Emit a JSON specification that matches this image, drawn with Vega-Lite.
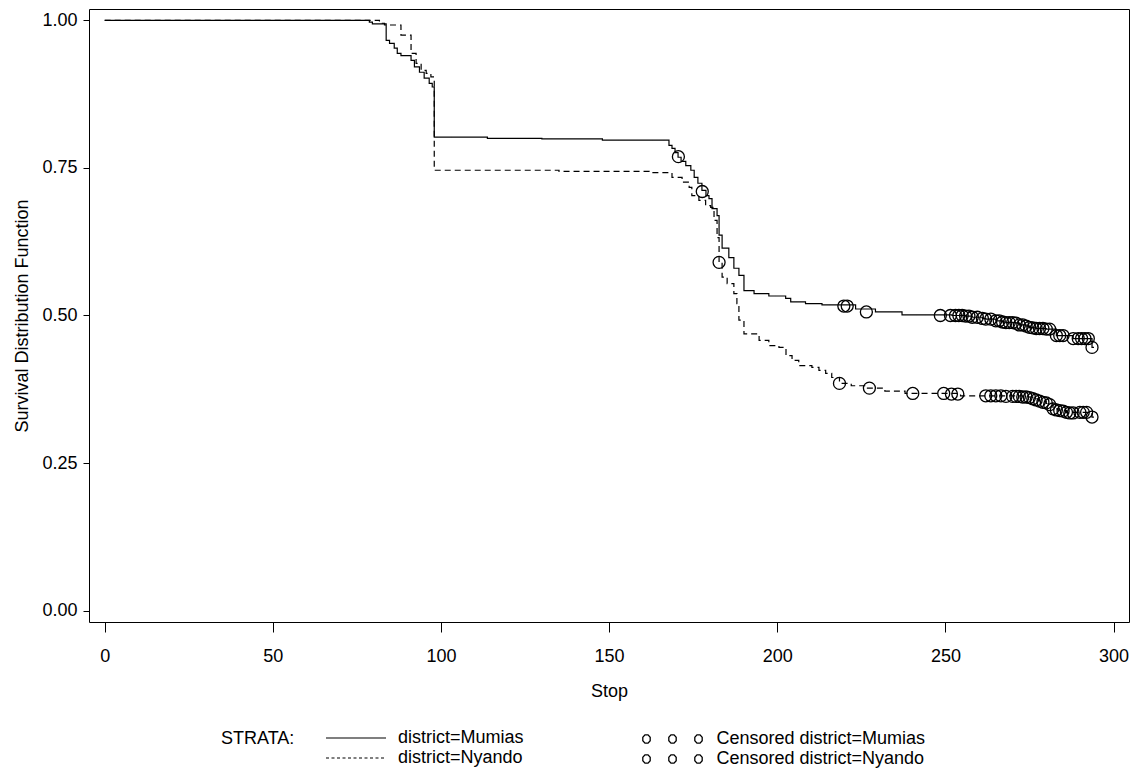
{
 "$schema": "https://vega.github.io/schema/vega-lite/v6.json",
 "width": 1040, "height": 613,
 "autosize": {"type": "none"},
 "padding": {"left": 89, "top": 9, "right": 7, "bottom": 157},
 "background": "white",
 "config": {
  "font": "Liberation Sans",
  "view": {"stroke": "black", "strokeWidth": 1},
  "axis": {"domain": false, "grid": false, "tickColor": "black", "tickWidth": 1, "labelColor": "black", "titleColor": "black", "labelFont": "Liberation Sans", "titleFont": "Liberation Sans", "labelFontSize": 18, "titleFontSize": 18, "titleFontWeight": "normal"},
  "legend": {"labelFont": "Liberation Sans", "titleFont": "Liberation Sans", "labelFontSize": 18, "titleFontSize": 18, "titleFontWeight": "normal", "labelColor": "black", "titleColor": "black", "padding": 0, "labelLimit": 0}
 },
 "resolve": {"scale": {"strokeDash": "independent"}},
 "datasets": {
  "steps": [
   {"district": "Mumias", "t": 0, "s": 1.0},
   {"district": "Mumias", "t": 78.7, "s": 0.997},
   {"district": "Mumias", "t": 79.6, "s": 0.994},
   {"district": "Mumias", "t": 83.7, "s": 0.966},
   {"district": "Mumias", "t": 84.7, "s": 0.961},
   {"district": "Mumias", "t": 86.1, "s": 0.953},
   {"district": "Mumias", "t": 87.0, "s": 0.944},
   {"district": "Mumias", "t": 88.1, "s": 0.940},
   {"district": "Mumias", "t": 91.1, "s": 0.932},
   {"district": "Mumias", "t": 92.1, "s": 0.921},
   {"district": "Mumias", "t": 93.6, "s": 0.912},
   {"district": "Mumias", "t": 95.0, "s": 0.902},
   {"district": "Mumias", "t": 96.5, "s": 0.893},
   {"district": "Mumias", "t": 97.4, "s": 0.887},
   {"district": "Mumias", "t": 98.0, "s": 0.802},
   {"district": "Mumias", "t": 113.8, "s": 0.800},
   {"district": "Mumias", "t": 130, "s": 0.799},
   {"district": "Mumias", "t": 148, "s": 0.797},
   {"district": "Mumias", "t": 167.8, "s": 0.788},
   {"district": "Mumias", "t": 168.7, "s": 0.783},
   {"district": "Mumias", "t": 169.6, "s": 0.776},
   {"district": "Mumias", "t": 170.5, "s": 0.768},
   {"district": "Mumias", "t": 171.4, "s": 0.761},
   {"district": "Mumias", "t": 172.8, "s": 0.754},
   {"district": "Mumias", "t": 174.3, "s": 0.746},
   {"district": "Mumias", "t": 175.3, "s": 0.734},
   {"district": "Mumias", "t": 176.4, "s": 0.724},
   {"district": "Mumias", "t": 177.6, "s": 0.712},
   {"district": "Mumias", "t": 178.8, "s": 0.703},
   {"district": "Mumias", "t": 179.7, "s": 0.698},
   {"district": "Mumias", "t": 180.6, "s": 0.681},
   {"district": "Mumias", "t": 182.1, "s": 0.669},
   {"district": "Mumias", "t": 182.7, "s": 0.636},
   {"district": "Mumias", "t": 183.6, "s": 0.614},
   {"district": "Mumias", "t": 185.6, "s": 0.598},
   {"district": "Mumias", "t": 187.1, "s": 0.580},
   {"district": "Mumias", "t": 188.6, "s": 0.568},
   {"district": "Mumias", "t": 190.1, "s": 0.542},
   {"district": "Mumias", "t": 193.1, "s": 0.537},
   {"district": "Mumias", "t": 197.5, "s": 0.533},
   {"district": "Mumias", "t": 202.5, "s": 0.529},
   {"district": "Mumias", "t": 204.0, "s": 0.523},
   {"district": "Mumias", "t": 208.4, "s": 0.520},
   {"district": "Mumias", "t": 213.3, "s": 0.518},
   {"district": "Mumias", "t": 223.3, "s": 0.511},
   {"district": "Mumias", "t": 229.2, "s": 0.506},
   {"district": "Mumias", "t": 237.1, "s": 0.501},
   {"district": "Mumias", "t": 252.0, "s": 0.500},
   {"district": "Mumias", "t": 256.0, "s": 0.499},
   {"district": "Mumias", "t": 258.0, "s": 0.497},
   {"district": "Mumias", "t": 261.0, "s": 0.495},
   {"district": "Mumias", "t": 262.0, "s": 0.494},
   {"district": "Mumias", "t": 265.0, "s": 0.491},
   {"district": "Mumias", "t": 267.0, "s": 0.489},
   {"district": "Mumias", "t": 268.0, "s": 0.488},
   {"district": "Mumias", "t": 271.0, "s": 0.487},
   {"district": "Mumias", "t": 272.0, "s": 0.484},
   {"district": "Mumias", "t": 274.0, "s": 0.482},
   {"district": "Mumias", "t": 275.0, "s": 0.480},
   {"district": "Mumias", "t": 276.0, "s": 0.479},
   {"district": "Mumias", "t": 277.0, "s": 0.478},
   {"district": "Mumias", "t": 280.0, "s": 0.477},
   {"district": "Mumias", "t": 283.0, "s": 0.466},
   {"district": "Mumias", "t": 288.0, "s": 0.461},
   {"district": "Mumias", "t": 293.6, "s": 0.446},
   {"district": "Mumias", "t": 294.2, "s": 0.446},
   {"district": "Nyando", "t": 0, "s": 1.0},
   {"district": "Nyando", "t": 81.7, "s": 0.995},
   {"district": "Nyando", "t": 83.2, "s": 0.992},
   {"district": "Nyando", "t": 88.1, "s": 0.975},
   {"district": "Nyando", "t": 91.1, "s": 0.944},
   {"district": "Nyando", "t": 92.6, "s": 0.927},
   {"district": "Nyando", "t": 94.1, "s": 0.915},
   {"district": "Nyando", "t": 95.6, "s": 0.910},
   {"district": "Nyando", "t": 97.0, "s": 0.904},
   {"district": "Nyando", "t": 98.0, "s": 0.746},
   {"district": "Nyando", "t": 135.1, "s": 0.744},
   {"district": "Nyando", "t": 161.9, "s": 0.742},
   {"district": "Nyando", "t": 168.7, "s": 0.734},
   {"district": "Nyando", "t": 171.7, "s": 0.726},
   {"district": "Nyando", "t": 173.8, "s": 0.717},
   {"district": "Nyando", "t": 174.6, "s": 0.703},
   {"district": "Nyando", "t": 176.7, "s": 0.695},
   {"district": "Nyando", "t": 178.7, "s": 0.686},
   {"district": "Nyando", "t": 180.2, "s": 0.683},
   {"district": "Nyando", "t": 181.2, "s": 0.661},
   {"district": "Nyando", "t": 182.1, "s": 0.632},
   {"district": "Nyando", "t": 182.7, "s": 0.590},
   {"district": "Nyando", "t": 183.6, "s": 0.565},
   {"district": "Nyando", "t": 185.1, "s": 0.554},
   {"district": "Nyando", "t": 187.1, "s": 0.537},
   {"district": "Nyando", "t": 188.0, "s": 0.520},
   {"district": "Nyando", "t": 188.6, "s": 0.492},
   {"district": "Nyando", "t": 190.1, "s": 0.469},
   {"district": "Nyando", "t": 194.6, "s": 0.458},
   {"district": "Nyando", "t": 197.5, "s": 0.449},
   {"district": "Nyando", "t": 200.5, "s": 0.446},
   {"district": "Nyando", "t": 202.6, "s": 0.432},
   {"district": "Nyando", "t": 204.4, "s": 0.424},
   {"district": "Nyando", "t": 206.4, "s": 0.415},
   {"district": "Nyando", "t": 210.3, "s": 0.412},
   {"district": "Nyando", "t": 212.4, "s": 0.407},
   {"district": "Nyando", "t": 214.4, "s": 0.402},
   {"district": "Nyando", "t": 216.2, "s": 0.395},
   {"district": "Nyando", "t": 218.5, "s": 0.385},
   {"district": "Nyando", "t": 222, "s": 0.381},
   {"district": "Nyando", "t": 226, "s": 0.377},
   {"district": "Nyando", "t": 232, "s": 0.372},
   {"district": "Nyando", "t": 238, "s": 0.368},
   {"district": "Nyando", "t": 254.5, "s": 0.364},
   {"district": "Nyando", "t": 273, "s": 0.362},
   {"district": "Nyando", "t": 276, "s": 0.359},
   {"district": "Nyando", "t": 278, "s": 0.355},
   {"district": "Nyando", "t": 280, "s": 0.351},
   {"district": "Nyando", "t": 282, "s": 0.342},
   {"district": "Nyando", "t": 284, "s": 0.339},
   {"district": "Nyando", "t": 286, "s": 0.336},
   {"district": "Nyando", "t": 293.6, "s": 0.328},
   {"district": "Nyando", "t": 294.2, "s": 0.328}
  ],
  "cens": [
   {"label": "Censored district=Mumias", "t": 170.6, "s": 0.769},
   {"label": "Censored district=Mumias", "t": 177.7, "s": 0.710},
   {"label": "Censored district=Mumias", "t": 219.8, "s": 0.516},
   {"label": "Censored district=Mumias", "t": 220.8, "s": 0.516},
   {"label": "Censored district=Mumias", "t": 226.5, "s": 0.506},
   {"label": "Censored district=Mumias", "t": 248.5, "s": 0.500},
   {"label": "Censored district=Mumias", "t": 251.5, "s": 0.500},
   {"label": "Censored district=Mumias", "t": 253, "s": 0.500},
   {"label": "Censored district=Mumias", "t": 254, "s": 0.500},
   {"label": "Censored district=Mumias", "t": 255, "s": 0.500},
   {"label": "Censored district=Mumias", "t": 256, "s": 0.499},
   {"label": "Censored district=Mumias", "t": 257, "s": 0.499},
   {"label": "Censored district=Mumias", "t": 258, "s": 0.497},
   {"label": "Censored district=Mumias", "t": 259.5, "s": 0.497},
   {"label": "Censored district=Mumias", "t": 261, "s": 0.495},
   {"label": "Censored district=Mumias", "t": 262, "s": 0.494},
   {"label": "Censored district=Mumias", "t": 263.5, "s": 0.494},
   {"label": "Censored district=Mumias", "t": 265, "s": 0.491},
   {"label": "Censored district=Mumias", "t": 266, "s": 0.491},
   {"label": "Censored district=Mumias", "t": 267, "s": 0.489},
   {"label": "Censored district=Mumias", "t": 268, "s": 0.488},
   {"label": "Censored district=Mumias", "t": 269, "s": 0.488},
   {"label": "Censored district=Mumias", "t": 270, "s": 0.488},
   {"label": "Censored district=Mumias", "t": 271, "s": 0.487},
   {"label": "Censored district=Mumias", "t": 272, "s": 0.484},
   {"label": "Censored district=Mumias", "t": 273, "s": 0.484},
   {"label": "Censored district=Mumias", "t": 274, "s": 0.482},
   {"label": "Censored district=Mumias", "t": 275, "s": 0.480},
   {"label": "Censored district=Mumias", "t": 276, "s": 0.479},
   {"label": "Censored district=Mumias", "t": 277, "s": 0.478},
   {"label": "Censored district=Mumias", "t": 278, "s": 0.478},
   {"label": "Censored district=Mumias", "t": 279, "s": 0.478},
   {"label": "Censored district=Mumias", "t": 280, "s": 0.477},
   {"label": "Censored district=Mumias", "t": 281, "s": 0.477},
   {"label": "Censored district=Mumias", "t": 283, "s": 0.466},
   {"label": "Censored district=Mumias", "t": 284, "s": 0.466},
   {"label": "Censored district=Mumias", "t": 285, "s": 0.466},
   {"label": "Censored district=Mumias", "t": 288, "s": 0.461},
   {"label": "Censored district=Mumias", "t": 289.5, "s": 0.461},
   {"label": "Censored district=Mumias", "t": 290.5, "s": 0.461},
   {"label": "Censored district=Mumias", "t": 291.5, "s": 0.461},
   {"label": "Censored district=Mumias", "t": 292.5, "s": 0.461},
   {"label": "Censored district=Mumias", "t": 293.6, "s": 0.446},
   {"label": "Censored district=Nyando", "t": 182.7, "s": 0.590},
   {"label": "Censored district=Nyando", "t": 218.5, "s": 0.385},
   {"label": "Censored district=Nyando", "t": 227.4, "s": 0.377},
   {"label": "Censored district=Nyando", "t": 240.3, "s": 0.368},
   {"label": "Censored district=Nyando", "t": 249.5, "s": 0.368},
   {"label": "Censored district=Nyando", "t": 251.8, "s": 0.367},
   {"label": "Censored district=Nyando", "t": 253.7, "s": 0.367},
   {"label": "Censored district=Nyando", "t": 262, "s": 0.364},
   {"label": "Censored district=Nyando", "t": 263.5, "s": 0.364},
   {"label": "Censored district=Nyando", "t": 265, "s": 0.364},
   {"label": "Censored district=Nyando", "t": 266.5, "s": 0.364},
   {"label": "Censored district=Nyando", "t": 268, "s": 0.363},
   {"label": "Censored district=Nyando", "t": 270, "s": 0.363},
   {"label": "Censored district=Nyando", "t": 271, "s": 0.363},
   {"label": "Censored district=Nyando", "t": 272, "s": 0.363},
   {"label": "Censored district=Nyando", "t": 273, "s": 0.362},
   {"label": "Censored district=Nyando", "t": 274, "s": 0.362},
   {"label": "Censored district=Nyando", "t": 275, "s": 0.361},
   {"label": "Censored district=Nyando", "t": 276, "s": 0.359},
   {"label": "Censored district=Nyando", "t": 277, "s": 0.357},
   {"label": "Censored district=Nyando", "t": 278, "s": 0.355},
   {"label": "Censored district=Nyando", "t": 279, "s": 0.353},
   {"label": "Censored district=Nyando", "t": 280, "s": 0.352},
   {"label": "Censored district=Nyando", "t": 281, "s": 0.349},
   {"label": "Censored district=Nyando", "t": 282, "s": 0.342},
   {"label": "Censored district=Nyando", "t": 283, "s": 0.340},
   {"label": "Censored district=Nyando", "t": 284, "s": 0.339},
   {"label": "Censored district=Nyando", "t": 285, "s": 0.338},
   {"label": "Censored district=Nyando", "t": 286, "s": 0.336},
   {"label": "Censored district=Nyando", "t": 287, "s": 0.335},
   {"label": "Censored district=Nyando", "t": 288, "s": 0.335},
   {"label": "Censored district=Nyando", "t": 290, "s": 0.336},
   {"label": "Censored district=Nyando", "t": 291, "s": 0.336},
   {"label": "Censored district=Nyando", "t": 292, "s": 0.336},
   {"label": "Censored district=Nyando", "t": 293.6, "s": 0.328}
  ]
 },
 "layer": [
  {
   "data": {"name": "steps"},
   "mark": {"type": "line", "interpolate": "step-after", "color": "black", "strokeWidth": 1.2},
   "encoding": {
    "x": {"field": "t", "type": "quantitative", "scale": {"domain": [-4.67, 304.6], "nice": false, "zero": false},
          "axis": {"values": [0, 50, 100, 150, 200, 250, 300], "title": "Stop", "tickSize": 10, "labelPadding": 15, "titlePadding": 17}},
    "y": {"field": "s", "type": "quantitative", "scale": {"domain": [-0.0191, 1.0191], "nice": false, "zero": false},
          "axis": {"values": [0, 0.25, 0.5, 0.75, 1], "format": ".2f", "title": "Survival Distribution Function", "tickSize": 6, "labelPadding": 6, "titlePadding": 10}},
    "strokeDash": {"field": "district", "type": "nominal",
     "scale": {"domain": ["Mumias", "Nyando"], "range": [[1, 0], [6, 4]]}, "legend": null}
   }
  },
  {
   "data": {"values": []},
   "mark": {"type": "line", "color": "black", "strokeWidth": 1.2},
   "encoding": {
    "x": {"field": "t", "type": "quantitative"},
    "y": {"field": "s", "type": "quantitative"},
    "strokeDash": {"field": "district", "type": "nominal",
     "scale": {"domain": ["Mumias", "Nyando"], "range": [[1, 0], [3, 2.5]]},
     "legend": {"title": "STRATA:", "orient": "none", "legendX": 132, "legendY": 721, "titleOrient": "left", "titleAnchor": "start", "titleBaseline": "top", "titlePadding": 30,
                "symbolType": "stroke", "symbolSize": 3600, "symbolStrokeWidth": 1.2, "labelOffset": 11, "labelExpr": "'district=' + datum.label", "clipHeight": 16, "rowPadding": 2}}
   }
  },
  {
   "data": {"name": "cens"},
   "mark": {"type": "point", "shape": "circle", "filled": false, "color": "black", "size": 144, "strokeWidth": 1.3, "opacity": 1},
   "encoding": {
    "x": {"field": "t", "type": "quantitative"},
    "y": {"field": "s", "type": "quantitative"}
   }
  },
  {
   "data": {"values": []},
   "mark": {"type": "point", "filled": false, "color": "black", "strokeWidth": 1.3, "opacity": 1},
   "encoding": {
    "x": {"field": "t", "type": "quantitative"},
    "y": {"field": "s", "type": "quantitative"},
    "shape": {"field": "label", "type": "nominal",
     "scale": {"domain": ["Censored district=Mumias", "Censored district=Nyando"],
               "range": ["M-0.7435,0.0574 L-0.8157,0.1386 L-0.9177,0.1386 L-0.9899,0.0574 L-0.9899,-0.0574 L-0.9177,-0.1386 L-0.8157,-0.1386 L-0.7435,-0.0574 Z M0.1232,0.0574 L0.051,0.1386 L-0.051,0.1386 L-0.1232,0.0574 L-0.1232,-0.0574 L-0.051,-0.1386 L0.051,-0.1386 L0.1232,-0.0574 Z M0.9899,0.0574 L0.9177,0.1386 L0.8157,0.1386 L0.7435,0.0574 L0.7435,-0.0574 L0.8157,-0.1386 L0.9177,-0.1386 L0.9899,-0.0574 Z",
                         "M-0.7435,0.0574 L-0.8157,0.1386 L-0.9177,0.1386 L-0.9899,0.0574 L-0.9899,-0.0574 L-0.9177,-0.1386 L-0.8157,-0.1386 L-0.7435,-0.0574 Z M0.1232,0.0574 L0.051,0.1386 L-0.051,0.1386 L-0.1232,0.0574 L-0.1232,-0.0574 L-0.051,-0.1386 L0.051,-0.1386 L0.1232,-0.0574 Z M0.9899,0.0574 L0.9177,0.1386 L0.8157,0.1386 L0.7435,0.0574 L0.7435,-0.0574 L0.8157,-0.1386 L0.9177,-0.1386 L0.9899,-0.0574 Z"]},
     "legend": {"title": null, "orient": "none", "legendX": 552.5, "legendY": 722, "symbolSize": 3600, "symbolStrokeWidth": 1.3, "symbolStrokeColor": "black", "symbolFillColor": "transparent", "labelOffset": 13, "clipHeight": 16, "rowPadding": 2, "labelLimit": 0}
    }
   }
  }
 ]
}
